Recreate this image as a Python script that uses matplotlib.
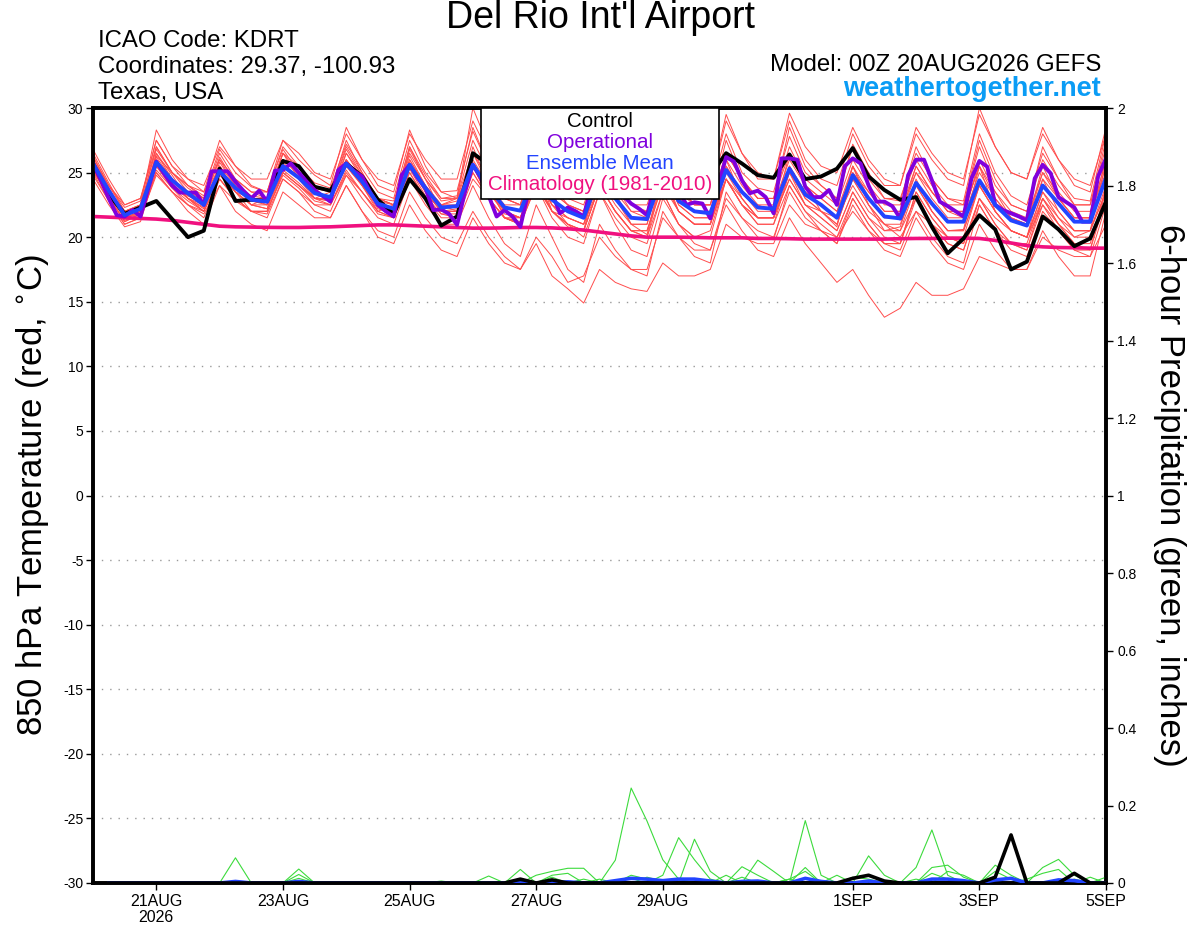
import numpy as np
import pandas as pd
import matplotlib
matplotlib.use('Agg')
import matplotlib.pyplot as plt
from matplotlib.patches import Rectangle
from matplotlib.ticker import FuncFormatter

plt.rcParams['font.family'] = ['Liberation Sans', 'DejaVu Sans']
plt.rcParams['axes.unicode_minus'] = False

# --- zaman eksenleri ---
times = pd.date_range('2026-08-20 00:00', periods=65, freq='6h')      # GEFS 6 saatlik
times_op = pd.date_range('2026-08-20 00:00', periods=129, freq='3h')  # operasyonel 3 saatlik

tick_dates = ['2026-08-21', '2026-08-23', '2026-08-25', '2026-08-27',
              '2026-08-29', '2026-09-01', '2026-09-03', '2026-09-05']
tick_labels = ['21AUG\n2026', '23AUG', '25AUG', '27AUG', '29AUG', '1SEP', '3SEP', '5SEP']

# --- 850 hPa sicaklik (C) ---
control = [25.7, 23.3, 21.8, 22.3, 22.8, 21.4, 20.0, 20.5, 25.3, 22.8, 22.9, 22.8,
           25.9, 25.5, 23.9, 23.6, 25.7, 24.7, 22.9, 21.8, 24.5, 23.0, 20.9, 21.6,
           26.5, 25.6, 24.5, 24.0, 26.0, 25.0, 24.0, 23.8, 26.0, 25.0, 24.2, 24.0,
           26.2, 25.5, 24.5, 24.8, 26.5, 25.7, 24.8, 24.6, 26.4, 24.5, 24.7, 25.3,
           26.9, 24.7, 23.65, 22.9, 23.1, 20.8, 18.75, 19.9, 21.7, 20.6, 17.5, 18.1,
           21.6, 20.6, 19.3, 19.9, 22.75]

ens_mean = [25.7, 23.6, 21.7, 22.2, 25.8, 24.4, 23.4, 22.5, 25.1, 23.8, 22.9, 22.75,
            25.5, 24.6, 23.4, 23.1, 25.7, 24.3, 22.6, 22.2, 25.6, 23.8, 22.3, 22.4,
            25.6, 23.8, 22.3, 22.05, 25.0, 22.9, 22.0, 21.5, 24.8, 23.0, 21.5, 21.4,
            25.0, 22.8, 22.0, 21.85, 25.2, 23.5, 22.3, 22.2, 25.3, 23.3, 22.5, 21.5,
            24.8, 23.0, 21.6, 21.45, 24.2, 22.6, 21.2, 21.2, 24.4, 22.5, 21.3, 20.9,
            24.0, 22.6, 21.2, 21.2, 24.6]

climo = [21.6, 21.55, 21.5, 21.45, 21.4, 21.3, 21.15, 21.0, 20.85, 20.8, 20.78, 20.76,
         20.75, 20.75, 20.78, 20.8, 20.85, 20.9, 20.95, 20.95, 20.9, 20.85, 20.8, 20.75,
         20.7, 20.7, 20.72, 20.75, 20.75, 20.72, 20.65, 20.55, 20.4, 20.25, 20.1, 20.0,
         20.0, 20.0, 19.98, 19.95, 19.95, 19.95, 19.9, 19.9, 19.88, 19.85, 19.85, 19.85,
         19.85, 19.85, 19.85, 19.88, 19.9, 19.9, 19.92, 19.92, 19.9, 19.75, 19.55, 19.35,
         19.25, 19.2, 19.18, 19.15, 19.15]

operational = [25.7, 24.4, 23.0, 21.7, 21.6, 22.1, 21.6, 23.8,
               25.85, 24.9, 24.0, 23.45, 23.45, 23.45, 22.5, 25.1,
               25.1, 25.1, 24.3, 23.6, 23.0, 23.6, 22.75, 25.15,
               25.2, 25.7, 25.0, 24.3, 23.65, 23.2, 22.75, 25.2,
               25.7, 25.1, 24.7, 23.5, 22.5, 22.0, 21.6, 24.8,
               25.6, 24.6, 23.8, 22.1, 22.15, 21.8, 20.95, 23.5,
               25.6, 24.6, 23.2, 21.6, 22.1, 21.6, 20.8, 23.5,
               25.3, 24.5, 23.4, 21.85, 22.3, 22.0, 21.6, 24.0,
               25.4, 24.6, 23.8, 23.2, 22.6, 22.2, 21.7, 24.0,
               25.5, 24.6, 23.6, 22.5, 22.7, 22.6, 21.45, 24.0,
               26.2, 25.85, 24.4, 23.4, 23.6, 23.1, 21.85, 26.1,
               26.1, 26.0, 23.9, 23.1, 23.1, 23.65, 22.5, 25.5,
               26.1, 25.7, 24.0, 22.75, 22.75, 22.4, 21.45, 24.8,
               26.0, 26.0, 24.4, 22.75, 22.4, 22.0, 21.6, 24.55,
               25.9, 25.45, 22.5, 22.1, 21.85, 21.6, 21.3, 24.55,
               25.6, 24.95, 23.1, 22.7, 22.3, 21.2, 21.2, 24.7,
               26.1]

members = [
    [26.3, 24.0, 22.3, 22.8, 27.5, 25.5, 24.0, 23.2, 26.8, 25.0, 23.9, 23.5, 27.0, 25.5, 24.2, 23.8,
     27.2, 25.3, 23.5, 23.0, 27.5, 25.0, 23.5, 23.6, 28.2, 25.5, 23.8, 23.0, 27.0, 24.5, 23.6, 23.2,
     27.0, 25.0, 23.2, 23.0, 27.6, 24.8, 23.5, 23.4, 28.0, 25.0, 23.8, 23.5, 27.8, 25.0, 24.0, 23.0,
     27.2, 25.0, 23.0, 22.8, 27.0, 24.5, 23.0, 22.8, 28.0, 25.0, 23.2, 22.5, 26.5, 24.5, 23.0, 22.8, 28.0],
    [25.2, 23.0, 21.3, 21.8, 26.5, 24.8, 23.0, 22.0, 25.8, 24.0, 22.5, 22.2, 26.0, 25.0, 23.0, 22.8,
     26.5, 24.8, 22.3, 21.8, 26.8, 24.5, 22.0, 22.0, 27.0, 24.0, 21.5, 21.2, 25.5, 22.0, 20.8, 20.5,
     25.5, 23.5, 21.0, 20.2, 25.2, 22.0, 21.0, 21.0, 26.0, 23.0, 21.5, 21.5, 26.5, 24.0, 22.0, 20.8,
     25.5, 22.5, 20.5, 20.8, 24.5, 22.0, 20.5, 20.6, 25.5, 22.0, 20.5, 20.0, 24.5, 22.0, 20.5, 20.5, 25.8],
    [25.0, 22.8, 21.0, 21.5, 24.8, 23.5, 22.5, 21.8, 24.0, 22.8, 22.0, 21.8, 24.5, 23.5, 22.5, 22.0,
     24.8, 23.0, 21.5, 21.0, 24.5, 22.5, 21.0, 21.0, 24.0, 21.5, 19.5, 18.5, 22.5, 20.0, 17.5, 16.5,
     21.0, 19.0, 17.5, 17.0, 22.0, 20.0, 18.5, 18.0, 23.5, 21.5, 20.0, 19.8, 24.0, 22.0, 21.0, 20.0,
     23.0, 21.0, 19.5, 19.5, 23.5, 21.5, 20.0, 20.0, 24.0, 22.0, 20.5, 20.0, 23.5, 21.5, 20.0, 20.5, 23.5],
    [26.5, 24.2, 22.0, 22.5, 28.3, 26.0, 24.5, 23.5, 27.5, 25.5, 24.0, 23.5, 27.5, 26.0, 24.8, 24.0,
     28.5, 26.0, 24.0, 23.5, 28.3, 25.5, 23.5, 23.0, 30.0, 27.0, 24.5, 24.0, 28.5, 25.0, 23.5, 23.0,
     28.0, 25.5, 24.0, 23.5, 29.0, 26.0, 24.5, 24.0, 29.5, 26.5, 25.0, 24.5, 29.6, 27.0, 25.5, 25.0,
     28.5, 26.0, 24.5, 24.0, 28.0, 26.0, 24.5, 24.0, 30.0, 27.0, 25.0, 24.5, 28.5, 26.0, 24.0, 23.5, 28.5],
    [25.5, 23.2, 21.5, 22.0, 26.0, 24.0, 23.0, 22.5, 25.5, 23.5, 22.5, 23.0, 26.5, 24.5, 23.0, 23.5,
     26.0, 24.0, 22.0, 22.5, 25.0, 23.0, 22.5, 23.0, 25.5, 23.0, 21.5, 21.0, 24.0, 21.5, 20.0, 19.5,
     23.5, 21.0, 19.0, 18.5, 23.0, 21.0, 20.0, 20.5, 24.5, 22.5, 21.5, 21.5, 25.5, 23.0, 22.0, 21.0,
     24.5, 22.5, 21.0, 20.5, 23.0, 21.0, 19.5, 19.0, 22.5, 20.5, 19.0, 18.5, 22.0, 20.5, 19.0, 18.5, 22.5],
    [25.0, 23.5, 22.0, 22.3, 25.5, 24.5, 23.5, 23.0, 24.8, 23.5, 23.0, 22.5, 25.0, 24.0, 23.0, 23.0,
     25.5, 24.0, 22.5, 22.0, 25.8, 23.5, 22.0, 22.0, 25.0, 23.0, 21.5, 21.5, 24.0, 22.0, 21.5, 21.0,
     24.0, 22.0, 20.5, 20.0, 24.5, 22.0, 21.0, 21.0, 24.5, 22.5, 21.5, 21.5, 24.5, 22.5, 22.0, 21.5,
     24.0, 22.0, 21.0, 20.0, 22.0, 20.0, 18.5, 18.0, 22.5, 20.5, 19.5, 19.5, 23.0, 21.5, 20.5, 20.5, 23.5],
    [25.8, 23.5, 21.5, 22.0, 25.0, 23.5, 22.0, 21.0, 24.0, 22.0, 21.0, 20.5, 23.5, 22.5, 21.5, 21.5,
     24.0, 22.0, 20.0, 19.5, 22.5, 20.5, 19.0, 18.5, 21.5, 19.5, 18.0, 17.5, 19.5, 17.0, 16.0, 14.9,
     17.5, 16.5, 16.0, 15.8, 18.0, 17.0, 17.0, 17.5, 21.0, 20.0, 19.5, 19.5, 22.5, 21.0, 20.5, 20.0,
     22.0, 20.5, 19.5, 19.0, 22.0, 21.0, 20.0, 19.5, 23.0, 21.5, 20.5, 20.0, 22.5, 21.0, 20.0, 20.0, 23.0],
    [26.0, 23.8, 21.8, 22.2, 26.2, 24.5, 23.2, 22.5, 25.5, 23.5, 22.5, 22.5, 25.8, 24.5, 23.5, 23.0,
     26.0, 24.0, 22.5, 22.0, 26.0, 24.0, 22.5, 22.0, 25.5, 23.0, 21.5, 21.0, 24.5, 22.5, 21.0, 20.5,
     24.0, 22.0, 20.5, 20.0, 23.5, 21.0, 19.5, 19.0, 22.5, 20.5, 19.0, 18.5, 21.5, 19.5, 18.0, 16.5,
     17.5, 15.5, 13.8, 14.5, 16.5, 15.5, 15.5, 16.0, 18.5, 18.0, 17.5, 17.5, 20.0, 19.0, 18.5, 18.5, 21.0],
    [26.0, 24.0, 22.5, 23.0, 27.0, 25.0, 24.0, 23.5, 26.0, 24.5, 23.5, 23.5, 26.8, 25.0, 24.0, 23.5,
     26.8, 24.8, 23.0, 22.8, 26.5, 24.5, 23.0, 23.0, 26.5, 24.5, 23.0, 22.5, 26.0, 23.5, 22.5, 22.0,
     26.0, 24.0, 22.0, 22.0, 26.5, 24.0, 22.5, 22.5, 26.5, 24.5, 23.0, 23.0, 27.0, 24.5, 23.5, 22.5,
     26.0, 24.0, 22.5, 22.5, 26.0, 24.0, 22.5, 22.5, 27.0, 24.0, 22.5, 22.0, 26.0, 24.0, 22.5, 22.5, 27.0],
    [25.5, 23.5, 21.5, 21.8, 25.5, 24.0, 23.0, 22.0, 25.0, 23.5, 22.0, 22.0, 25.0, 24.0, 23.0, 22.5,
     25.0, 23.5, 21.8, 21.5, 25.0, 23.0, 21.5, 21.5, 25.0, 23.0, 21.5, 21.0, 24.5, 22.0, 21.0, 20.5,
     24.0, 22.0, 20.5, 20.5, 24.5, 22.0, 21.0, 21.0, 25.0, 23.0, 21.5, 21.5, 25.0, 23.0, 22.0, 21.0,
     24.5, 22.5, 21.0, 21.0, 24.0, 22.0, 20.5, 20.5, 24.0, 22.0, 20.5, 20.0, 23.5, 22.0, 20.5, 20.5, 24.0],
    [24.5, 22.5, 20.8, 21.2, 25.2, 23.8, 22.8, 22.0, 24.5, 23.0, 22.0, 22.0, 25.0, 24.0, 22.8, 22.5,
     25.2, 23.5, 22.0, 21.5, 25.3, 23.2, 21.8, 21.8, 25.5, 23.5, 21.8, 21.5, 25.5, 23.0, 22.0, 21.5,
     25.0, 23.0, 21.5, 21.5, 25.5, 23.0, 22.0, 22.0, 25.5, 23.5, 22.5, 22.0, 25.5, 23.5, 22.5, 21.5,
     25.0, 23.0, 21.5, 21.5, 25.5, 23.5, 22.0, 21.5, 25.0, 23.0, 21.5, 21.0, 24.5, 23.0, 21.5, 21.5, 25.5],
    [26.2, 24.0, 22.0, 22.5, 26.8, 25.0, 23.8, 23.0, 26.5, 24.5, 23.5, 23.0, 26.5, 25.5, 24.0, 23.5,
     27.0, 25.0, 23.0, 22.5, 27.0, 24.5, 22.8, 23.0, 27.5, 25.0, 23.0, 22.5, 26.5, 24.0, 23.0, 22.5,
     26.0, 24.0, 22.5, 22.5, 26.0, 23.5, 22.5, 22.5, 26.5, 24.5, 23.0, 23.0, 26.5, 24.0, 23.0, 22.0,
     25.5, 23.5, 22.0, 22.0, 25.5, 23.5, 22.0, 22.0, 25.5, 23.0, 21.5, 21.0, 25.0, 23.0, 21.5, 21.5, 26.0],
    [25.3, 23.0, 21.2, 21.8, 25.5, 23.8, 22.5, 21.5, 24.5, 23.0, 22.0, 21.5, 24.5, 23.5, 22.0, 21.5,
     24.0, 22.0, 20.5, 20.0, 23.5, 21.5, 20.0, 19.5, 22.0, 20.0, 18.5, 17.5, 20.0, 18.5, 16.5, 17.0,
     20.0, 18.5, 17.5, 17.5, 21.5, 20.0, 19.0, 19.0, 23.0, 21.5, 20.5, 20.0, 23.5, 21.5, 20.5, 19.5,
     23.0, 21.0, 19.5, 19.5, 23.5, 21.5, 20.0, 19.5, 23.0, 21.0, 19.5, 19.0, 23.0, 21.0, 19.5, 19.5, 23.5],
    [25.7, 23.6, 22.0, 22.5, 26.3, 25.0, 24.0, 23.0, 25.5, 24.0, 23.2, 23.0, 26.0, 25.0, 23.8, 23.5,
     26.5, 24.5, 23.0, 22.5, 26.0, 24.0, 22.5, 22.8, 26.0, 24.0, 22.5, 22.5, 25.5, 23.5, 22.5, 22.0,
     25.5, 23.5, 22.0, 21.5, 25.5, 23.0, 22.0, 22.0, 26.0, 24.0, 22.5, 22.5, 26.0, 24.0, 23.0, 22.0,
     25.0, 23.5, 22.0, 22.0, 25.0, 23.5, 22.0, 22.0, 25.5, 23.5, 22.0, 21.5, 25.0, 23.5, 22.0, 22.0, 25.0],
    [24.8, 22.8, 21.0, 21.5, 25.0, 23.5, 22.5, 22.0, 24.5, 23.0, 22.0, 22.0, 24.8, 23.8, 22.5, 22.5,
     24.8, 23.5, 22.0, 21.5, 24.5, 23.0, 21.8, 21.5, 24.5, 23.0, 21.5, 21.0, 24.0, 22.0, 21.0, 20.5,
     24.0, 22.0, 20.5, 20.5, 24.0, 22.0, 21.0, 21.0, 24.5, 23.0, 21.5, 21.5, 24.5, 22.5, 21.5, 20.5,
     23.5, 21.5, 20.5, 20.5, 24.0, 22.0, 20.5, 20.5, 24.0, 22.0, 20.5, 20.0, 23.0, 21.0, 19.5, 19.0, 23.0],
    [26.8, 24.5, 22.5, 23.0, 27.5, 25.5, 24.5, 24.0, 27.0, 25.5, 24.5, 24.5, 27.5, 26.5, 25.0, 24.5,
     28.0, 26.0, 24.5, 24.0, 28.0, 26.0, 24.5, 24.5, 29.0, 26.5, 24.5, 24.0, 27.5, 25.0, 24.0, 24.0,
     27.5, 25.5, 24.0, 23.5, 28.5, 25.5, 24.0, 24.0, 29.0, 26.5, 24.5, 24.5, 29.0, 26.0, 24.5, 24.0,
     28.0, 25.5, 24.0, 24.0, 28.5, 26.5, 25.0, 24.5, 29.5, 27.0, 25.0, 24.5, 28.0, 26.0, 24.5, 24.0, 28.0],
    [25.3, 23.3, 21.8, 22.0, 26.5, 24.5, 23.2, 22.8, 26.0, 24.0, 23.0, 22.8, 26.0, 24.8, 23.5, 23.0,
     26.0, 24.5, 22.8, 22.5, 26.3, 24.0, 22.5, 22.5, 26.5, 24.0, 22.0, 21.5, 25.0, 22.5, 21.5, 21.0,
     25.0, 23.0, 21.0, 21.0, 25.5, 22.5, 21.5, 21.5, 25.5, 23.5, 22.0, 22.0, 25.5, 23.5, 22.5, 21.5,
     25.5, 23.0, 21.5, 21.5, 25.0, 23.0, 21.5, 21.5, 26.0, 23.5, 21.5, 21.0, 25.5, 23.0, 21.5, 21.5, 26.0],
    [25.5, 23.4, 21.4, 22.0, 25.8, 24.2, 23.0, 22.2, 25.0, 23.5, 22.5, 22.2, 25.2, 24.2, 23.0, 22.8,
     25.5, 24.0, 22.2, 21.8, 25.5, 23.5, 22.0, 22.0, 25.5, 23.5, 22.0, 21.5, 25.0, 22.5, 21.5, 21.0,
     24.5, 22.5, 21.0, 21.0, 25.0, 22.5, 21.5, 21.5, 24.5, 22.5, 21.0, 21.0, 24.0, 22.0, 20.5, 19.5,
     22.5, 20.5, 19.0, 18.5, 21.5, 19.5, 18.0, 17.5, 21.0, 19.0, 17.5, 17.5, 20.5, 18.5, 17.0, 17.0, 22.0],
    [26.0, 23.8, 21.6, 22.4, 27.0, 25.0, 23.5, 22.8, 26.2, 24.2, 23.0, 23.0, 26.5, 25.0, 23.8, 23.5,
     27.5, 25.0, 23.0, 22.5, 27.0, 24.8, 23.0, 23.2, 28.5, 25.5, 23.0, 22.5, 27.5, 24.0, 22.5, 22.0,
     27.0, 24.5, 22.5, 22.0, 27.0, 24.0, 22.5, 22.5, 27.5, 24.5, 23.0, 23.0, 28.5, 25.5, 24.0, 23.0,
     27.0, 24.5, 23.0, 23.0, 26.5, 24.5, 23.0, 22.5, 27.5, 24.5, 22.5, 22.0, 27.0, 24.5, 22.5, 22.5, 27.5],
    [25.4, 23.2, 21.2, 21.8, 26.0, 24.5, 23.0, 22.3, 25.2, 23.8, 22.8, 22.5, 25.5, 24.5, 23.5, 23.0,
     25.8, 24.0, 22.5, 22.0, 25.5, 23.5, 22.0, 22.2, 25.8, 23.5, 22.0, 21.5, 24.5, 22.0, 21.0, 20.0,
     23.5, 21.5, 20.0, 19.5, 23.5, 21.0, 20.0, 20.0, 24.5, 22.5, 21.0, 21.0, 25.0, 22.5, 21.5, 20.5,
     23.5, 21.5, 20.0, 19.5, 23.0, 21.0, 19.5, 19.0, 23.0, 21.0, 19.5, 19.0, 22.5, 20.5, 19.0, 19.0, 24.0],
]

# --- 6 saatlik yagis (inc), adim numarasi: deger (digerleri 0) ---
precip_members = [
    {9: 0.065},
    {13: 0.036, 34: 0.02, 35: 0.01},
    {13: 0.022, 38: 0.113, 39: 0.03},
    {13: 0.012, 45: 0.161, 46: 0.02},
    {25: 0.018, 27: 0.01, 29: 0.015},
    {27: 0.035, 29: 0.02, 30: 0.025},
    {28: 0.02, 29: 0.03, 30: 0.038, 31: 0.038},
    {33: 0.059, 34: 0.245, 35: 0.16, 36: 0.06, 37: 0.01},
    {36: 0.02, 37: 0.117, 38: 0.06, 39: 0.01},
    {35: 0.015, 36: 0.005, 41: 0.042, 42: 0.02},
    {42: 0.059, 43: 0.03, 45: 0.04},
    {49: 0.07, 50: 0.02, 52: 0.04, 53: 0.137, 54: 0.02},
    {53: 0.04, 54: 0.046, 55: 0.015, 60: 0.04, 61: 0.061, 62: 0.02},
    {47: 0.02, 57: 0.046, 58: 0.02},
    {44: 0.01, 45: 0.03, 54: 0.03, 55: 0.02, 57: 0.03, 58: 0.01},
    {32: 0.01, 48: 0.015, 49: 0.01, 53: 0.025, 54: 0.01, 62: 0.01},
    {41: 0.015, 44: 0.01, 63: 0.015},
    {30: 0.005, 37: 0.01, 40: 0.02, 59: 0.01, 60: 0.025, 61: 0.035, 64: 0.015},
    {22: 0.005, 31: 0.01, 52: 0.01},
    {},
]
precip_control = {27: 0.01, 29: 0.008, 48: 0.012, 49: 0.02, 50: 0.005, 57: 0.015, 58: 0.124, 62: 0.025}
precip_mean = {9: 0.004, 13: 0.004, 30: 0.003, 33: 0.006, 34: 0.012, 35: 0.01, 36: 0.006, 37: 0.01,
               38: 0.01, 39: 0.005, 41: 0.004, 42: 0.005, 45: 0.012, 46: 0.004, 49: 0.005, 53: 0.01,
               54: 0.01, 55: 0.006, 57: 0.008, 58: 0.012, 61: 0.008, 62: 0.006}

for m in members:
    assert len(m) == 65, len(m)
assert len(operational) == 129 and len(control) == 65 and len(ens_mean) == 65 and len(climo) == 65


def precip_series(spikes):
    """Adim 1..64 icin yagis serisi (ilk adimda birikim yok)."""
    vals = np.zeros(64)
    for k, v in spikes.items():
        vals[k - 1] = v
    return vals


# --- renkler ---
RED = '#FF4D4D'
GREEN = '#3CDB3C'
BLUE = '#2244FF'
PURPLE = '#8000DD'
PINK = '#F0107F'
SITE = '#0A9CF5'

fig = plt.figure(figsize=(12, 9.27), dpi=100)
ax = fig.add_axes([93 / 1200, 1 - 883 / 927, 1013 / 1200, 775 / 927])
ax2 = ax.twinx()

# ensemble uyeleri
for m in members:
    ax.plot(times, m, color=RED, lw=0.7, zorder=2)
ax.plot(times, climo, color=PINK, lw=2.6, zorder=3)
ax.plot(times, control, color='black', lw=2.8, zorder=4)
ax.plot(times_op, operational, color=PURPLE, lw=2.8, zorder=5)
ax.plot(times, ens_mean, color=BLUE, lw=2.8, zorder=6)

# yagis (sag eksen)
ptimes = times[1:]
for pm in precip_members:
    ax2.plot(ptimes, precip_series(pm), color=GREEN, lw=0.8, zorder=2)
ax2.plot(ptimes, precip_series(precip_mean), color=BLUE, lw=2.6, zorder=3)
ax2.plot(ptimes, precip_series(precip_control), color='black', lw=2.6, zorder=4)

# eksen ayarlari
ax.set_xlim(times[0], times[-1])
ax.set_ylim(-30, 30)
ax.set_yticks(np.arange(-30, 31, 5))
ax.yaxis.grid(True, linestyle=(0, (1, 5)), color='#999999', lw=1.0)
ax.set_xticks(pd.to_datetime(tick_dates))
ax.set_xticklabels(tick_labels, family=['Liberation Sans Narrow', 'Liberation Sans'], fontsize=11.5,
                   linespacing=1.05)
ax.tick_params(axis='x', direction='out', length=5, width=1, pad=3)
ax.tick_params(axis='y', direction='out', length=5, width=1, labelsize=10, pad=2)

ax2.set_ylim(0, 2)
ax2.set_yticks(np.arange(0, 2.01, 0.2))
ax2.yaxis.set_major_formatter(FuncFormatter(lambda v, p: '%g' % round(v, 1)))
ax2.tick_params(axis='y', direction='out', length=5, width=1, labelsize=10, pad=3)

for a in (ax, ax2):
    for s in a.spines.values():
        s.set_linewidth(2.6)

ax.set_ylabel(r'850 hPa Temperature (red, $^{\circ}$C)', fontsize=25, va='center')
ax.yaxis.set_label_coords(-0.060, 0.5)
ax2.set_ylabel('6-hour Precipitation (green, inches)', fontsize=25, rotation=270, va='center')
ax2.yaxis.set_label_coords(1.063, 0.5)

# lejant kutusu
x0, x1 = (481 - 93) / 1013, (719 - 93) / 1013
y0 = 1 - (199 - 108) / 775
ax2.add_patch(Rectangle((x0, y0), x1 - x0, 1 - y0, transform=ax2.transAxes, facecolor='white',
                        edgecolor='black', lw=1.2, zorder=20, clip_on=False))
leg_items = [('Control', 'black'), ('Operational', PURPLE),
             ('Ensemble Mean', BLUE), ('Climatology (1981-2010)', PINK)]
for k, (txt, col) in enumerate(leg_items):
    yy = 1 - (121 + k * 21.3 - 108) / 775
    ax2.text(0.5 * (x0 + x1), yy, txt, color=col, fontsize=14.8, ha='center', va='center',
             transform=ax2.transAxes, zorder=21)

# basliklar
fig.text(0.5, 1 - 18 / 927, "Del Rio Int'l Airport", fontsize=27, ha='center', va='center')
fig.text(98 / 1200, 1 - 46.7 / 927, 'ICAO Code: KDRT', fontsize=17.3, va='baseline')
fig.text(98 / 1200, 1 - 72.7 / 927, 'Coordinates: 29.37, -100.93', fontsize=17.3, va='baseline')
fig.text(98 / 1200, 1 - 99.3 / 927, 'Texas, USA', fontsize=17.3, va='baseline')
fig.text(1101 / 1200, 1 - 71 / 927, 'Model: 00Z 20AUG2026 GEFS', fontsize=17.3, ha='right', va='baseline')
fig.text(1101 / 1200, 1 - 96 / 927, 'weathertogether.net', fontsize=19.5, ha='right', va='baseline',
         color=SITE, fontweight='bold')

fig.savefig('out.png', dpi=100)
